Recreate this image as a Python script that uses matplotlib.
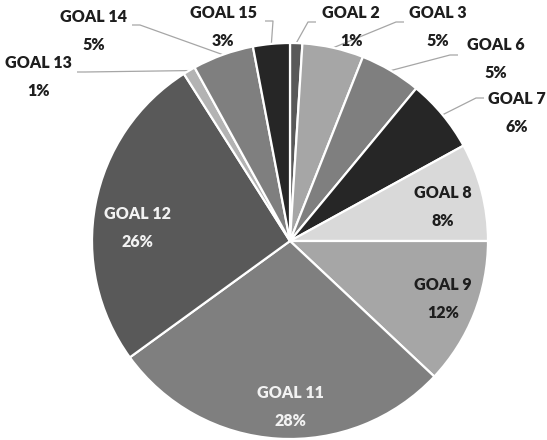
import numpy as np
import matplotlib.pyplot as plt

# share of projects by goal
goals = ["GOAL 2", "GOAL 3", "GOAL 6", "GOAL 7", "GOAL 8", "GOAL 9",
         "GOAL 11", "GOAL 12", "GOAL 13", "GOAL 14", "GOAL 15"]
shares = [1, 5, 5, 6, 8, 12, 28, 26, 1, 5, 3]
colors = ["#595959", "#a6a6a6", "#7f7f7f", "#262626", "#d9d9d9", "#a6a6a6",
          "#7f7f7f", "#595959", "#b3b3b3", "#7f7f7f", "#262626"]

W, H = 547, 440
fig = plt.figure(figsize=(W / 100, H / 100), dpi=100)
ax = fig.add_axes([0, 0, 1, 1])

cx, cy, R = 290, 241, 198
wedges, _ = ax.pie(shares, colors=colors, startangle=90, counterclock=False,
                   center=(cx, H - cy), radius=R,
                   wedgeprops=dict(edgecolor="white", linewidth=1.6))
ax.set_xlim(0, W)
ax.set_ylim(0, H)
ax.set_aspect("equal")
ax.axis("off")

plt.rcParams["font.family"] = ["Lato", "DejaVu Sans"]

# label centres in pixels (x, y from top); inside labels have no leader
label_pos = {
    "GOAL 2": (351, 27), "GOAL 3": (438, 27), "GOAL 6": (496, 59),
    "GOAL 7": (517, 113), "GOAL 8": (443, 207), "GOAL 9": (443, 299),
    "GOAL 11": (290, 407), "GOAL 12": (137, 228), "GOAL 13": (38, 77),
    "GOAL 14": (94, 31), "GOAL 15": (223, 27),
}
inside = {"GOAL 8", "GOAL 9", "GOAL 11", "GOAL 12"}
light_text = {"GOAL 11", "GOAL 12"}
# where the leader leaves the label (pixels)
leader_start = {
    "GOAL 2": (316, 22), "GOAL 3": (404, 22), "GOAL 6": (458, 55),
    "GOAL 7": (484, 98), "GOAL 13": (77, 72), "GOAL 14": (132, 25),
    "GOAL 15": (265, 21),
}

cum = np.cumsum([0] + shares[:-1])
for g, v, c0 in zip(goals, shares, cum):
    x, y = label_pos[g]
    col = "#f2f2f2" if g in light_text else "#1e1e1e"
    ax.text(x, H - y, f"{g}\n{v}%", ha="center", va="center",
            multialignment="center", fontsize=11.5, fontweight="heavy",
            color=col, linespacing=1.85)
    if g in inside:
        continue
    ang = np.deg2rad(90 - 360 * (c0 + v / 2) / 100)
    ex, ey = cx + R * np.cos(ang), cy - R * np.sin(ang)
    sx, sy = leader_start[g]
    step = 8 if ex > sx else -8
    xs = [sx, sx + step, ex]
    ys = [sy, sy, ey]
    ax.plot(xs, [H - t for t in ys], color="#a6a6a6", lw=0.9,
            solid_capstyle="butt", zorder=0.5)

fig.savefig("out.png", dpi=100)
